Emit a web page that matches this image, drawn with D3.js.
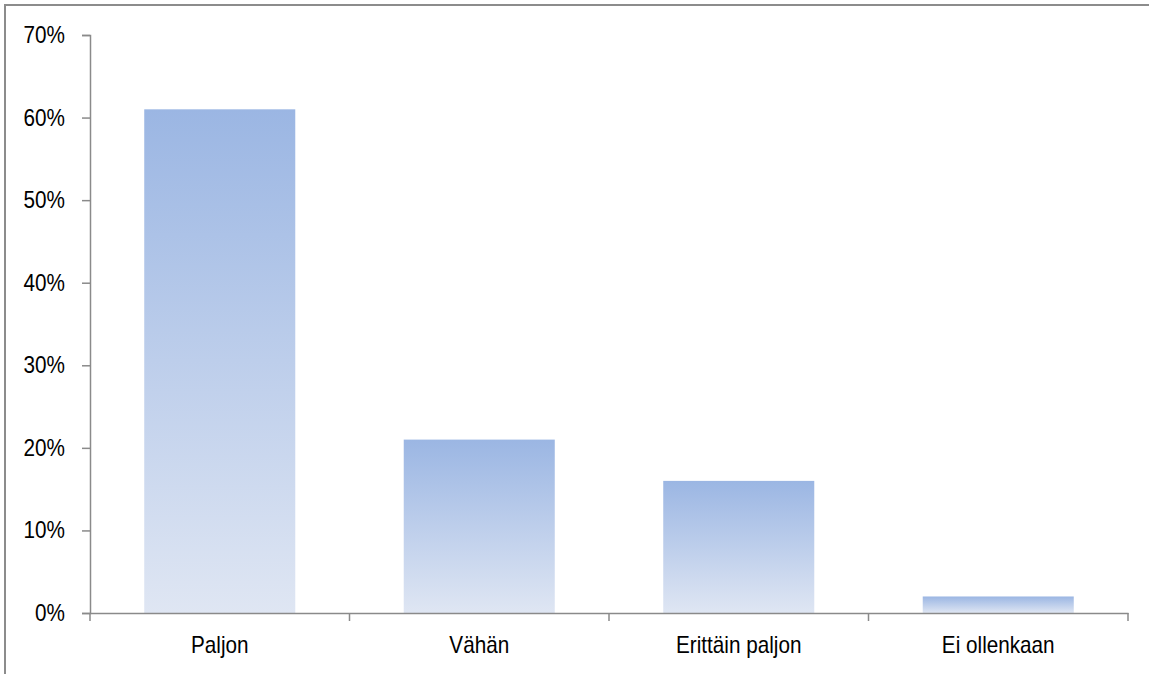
<!DOCTYPE html>
<html>
<head>
<meta charset="utf-8">
<script src="https://cdn.jsdelivr.net/npm/d3@7/dist/d3.min.js"></script>
<style>
  html, body { margin: 0; padding: 0; background: #fff; }
  svg { display: block; }
  text { font-family: "Liberation Sans", Arial, sans-serif; fill: #000; }
</style>
</head>
<body>
<svg id="chart" width="1149" height="674"></svg>
<script>
// Survey answers and their shares (%)
const categories = ["Paljon", "Vähän", "Erittäin paljon", "Ei ollenkaan"];
const shares = [61, 21, 16, 2];
const yTicks = [0, 10, 20, 30, 40, 50, 60, 70];

const W = 1149, H = 674;
const margin = { left: 90, right: 21, top: 35, bottom: 61 };

const svg = d3.select("#chart");

// outer frame (only top and left edges fall inside the view)
svg.append("rect")
  .attr("x", 5).attr("y", 5)
  .attr("width", W + 20).attr("height", H + 20)
  .attr("fill", "none").attr("stroke", "#8c8c8c").attr("stroke-width", 2);

const x = d3.scaleBand()
  .domain(categories)
  .range([margin.left, W - margin.right])
  .paddingInner(0.418)
  .paddingOuter(0.209);

const band = d3.scaleBand().domain(categories).range([margin.left, W - margin.right]);

const y = d3.scaleLinear()
  .domain([0, 70])
  .range([H - margin.bottom, margin.top]);

// vertical gradient, strong blue at the top fading downwards
const defs = svg.append("defs");
const grad = defs.append("linearGradient")
  .attr("id", "barFill")
  .attr("x1", 0).attr("y1", 0).attr("x2", 0).attr("y2", 1);
grad.append("stop").attr("offset", "0%").attr("stop-color", "#9bb6e3");
grad.append("stop").attr("offset", "100%").attr("stop-color", "#dfe6f3");

// bars
svg.append("g").selectAll("rect")
  .data(categories)
  .join("rect")
  .attr("x", d => x(d))
  .attr("width", x.bandwidth())
  .attr("y", (d, i) => y(shares[i]))
  .attr("height", (d, i) => y(0) - y(shares[i]))
  .attr("fill", "url(#barFill)");

const axisColor = "#8a8a8a";

// y axis
const yAxis = svg.append("g")
  .attr("transform", `translate(${margin.left},0)`)
  .call(d3.axisLeft(y).tickValues(yTicks).tickSize(8).tickFormat(""));
yAxis.select(".domain").attr("stroke", axisColor).attr("stroke-width", 1.5);
yAxis.selectAll(".tick line").attr("stroke", axisColor).attr("stroke-width", 1.5);

svg.append("g").selectAll("text")
  .data(yTicks)
  .join("text")
  .attr("transform", d => `translate(65,${y(d) + 8}) scale(0.9,1)`)
  .attr("text-anchor", "end")
  .attr("font-size", 23)
  .text(d => d + "%");

// x axis with ticks at band boundaries
const xAxis = svg.append("g")
  .attr("transform", `translate(0,${y(0)})`)
  .call(d3.axisBottom(band).tickSize(0).tickFormat(""));
xAxis.select(".domain").attr("stroke", axisColor).attr("stroke-width", 1.5);
xAxis.selectAll(".tick").remove();

const bounds = categories.map(c => band(c)).concat([W - margin.right]);
xAxis.selectAll("line.sep")
  .data(bounds)
  .join("line")
  .attr("class", "sep")
  .attr("x1", d => d).attr("x2", d => d)
  .attr("y1", 0).attr("y2", 8)
  .attr("stroke", axisColor).attr("stroke-width", 1.5);

svg.append("g").selectAll("text")
  .data(categories)
  .join("text")
  .attr("transform", d => `translate(${band(d) + band.bandwidth() / 2},${y(0) + 40}) scale(0.9,1)`)
  .attr("text-anchor", "middle")
  .attr("font-size", 23)
  .text(d => d);
</script>
</body>
</html>
